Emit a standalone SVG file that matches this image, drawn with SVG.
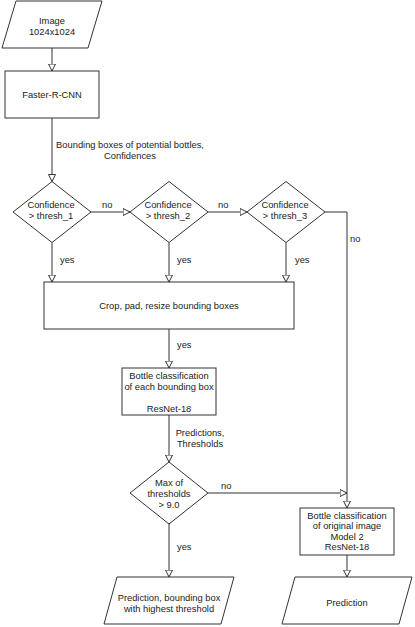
<svg xmlns="http://www.w3.org/2000/svg" width="415" height="627" viewBox="0 0 415 627">
<style>
.s{fill:#fff;stroke:#333;stroke-width:1}
.c{fill:none;stroke:#333;stroke-width:1}
text{font-family:"Liberation Sans",Arial,sans-serif;font-size:9.33px;fill:#222}
.m{text-anchor:middle}
</style>
<defs>
<marker id="a" viewBox="0 0 8 8" refX="7.5" refY="4" markerWidth="8" markerHeight="8" markerUnits="userSpaceOnUse" orient="auto">
<path d="M0.5,0.5 L7.5,4 L0.5,7.5 Z" fill="#fff" stroke="#333" stroke-width="1"/>
</marker>
</defs>
<rect width="415" height="627" fill="#fff"/>
<g id="connectors">
<path class="c" d="M52,48 V71" marker-end="url(#a)"/>
<path class="c" d="M52,118 V181.5" marker-end="url(#a)"/>
<path class="c" d="M91,212 H130" marker-end="url(#a)"/>
<path class="c" d="M208,212 H247" marker-end="url(#a)"/>
<path class="c" d="M325,212 H347 V508" marker-end="url(#a)"/>
<path class="c" d="M52,242.5 V282" marker-end="url(#a)"/>
<path class="c" d="M169,242.5 V282" marker-end="url(#a)"/>
<path class="c" d="M286,242.5 V282" marker-end="url(#a)"/>
<path class="c" d="M169,329 V368" marker-end="url(#a)"/>
<path class="c" d="M169,415 V462" marker-end="url(#a)"/>
<path class="c" d="M208,493 H347" marker-end="url(#a)"/>
<path class="c" d="M169,524 V577" marker-end="url(#a)"/>
<path class="c" d="M347,555 V577" marker-end="url(#a)"/>
<text x="130" y="148.3" class="m">Bounding boxes of potential bottles,</text>
<text x="130" y="159.3" class="m">Confidences</text>
<text x="102" y="208.3">no</text>
<text x="218" y="208.3">no</text>
<text x="350" y="242.3">no</text>
<text x="60" y="263.3">yes</text>
<text x="177" y="263.3">yes</text>
<text x="295" y="263.3">yes</text>
<text x="177" y="348.3">yes</text>
<text x="200" y="436.3" class="m">Predictions,</text>
<text x="200" y="447.3" class="m">Thresholds</text>
<text x="221" y="489.3">no</text>
<text x="177" y="550.3">yes</text>
</g>
<g id="image">
<polygon class="s" points="16,1 102,1 88,48 2,48"/>
<text x="52" y="24" class="m">Image</text>
<text x="52" y="35" class="m">1024x1024</text>
</g>
<g id="faster-rcnn">
<rect class="s" x="5" y="71" width="94" height="47"/>
<text x="52" y="98" class="m">Faster-R-CNN</text>
</g>
<g id="conf1">
<polygon class="s" points="52,181.5 91,212 52,242.5 13,212"/>
<text x="51" y="208.3" class="m">Confidence</text>
<text x="51" y="218.8" class="m">&gt; thresh_1</text>
</g>
<g id="conf2">
<polygon class="s" points="169,181.5 208,212 169,242.5 130,212"/>
<text x="168" y="208.3" class="m">Confidence</text>
<text x="168" y="218.8" class="m">&gt; thresh_2</text>
</g>
<g id="conf3">
<polygon class="s" points="286,181.5 325,212 286,242.5 247,212"/>
<text x="285" y="208.3" class="m">Confidence</text>
<text x="285" y="218.8" class="m">&gt; thresh_3</text>
</g>
<g id="crop">
<rect class="s" x="44" y="282" width="250" height="47"/>
<text x="169" y="309" class="m">Crop, pad, resize bounding boxes</text>
</g>
<g id="bottle-each">
<rect class="s" x="122" y="368" width="94" height="47"/>
<text x="169" y="379" class="m">Bottle classification</text>
<text x="169" y="390" class="m">of each bounding box</text>
<text x="169" y="412.3" class="m">ResNet-18</text>
</g>
<g id="max">
<polygon class="s" points="169,462 208,493 169,524 130,493"/>
<text x="169" y="486.3" class="m">Max of</text>
<text x="169" y="497.3" class="m">thresholds</text>
<text x="169" y="508.3" class="m">&gt; 9.0</text>
</g>
<g id="pred-bbox">
<polygon class="s" points="117,577 234,577 221,624 104,624"/>
<text x="169" y="601.3" class="m">Prediction, bounding box</text>
<text x="169" y="612.3" class="m">with highest threshold</text>
</g>
<g id="bottle-orig">
<rect class="s" x="300" y="508" width="94" height="47"/>
<text x="347" y="518.8" class="m">Bottle classification</text>
<text x="347" y="529.3" class="m">of original image</text>
<text x="347" y="539.8" class="m">Model 2</text>
<text x="347" y="550.3" class="m">ResNet-18</text>
</g>
<g id="prediction">
<polygon class="s" points="295,577 412,577 399,624 282,624"/>
<text x="347" y="606.3" class="m">Prediction</text>
</g>
</svg>
